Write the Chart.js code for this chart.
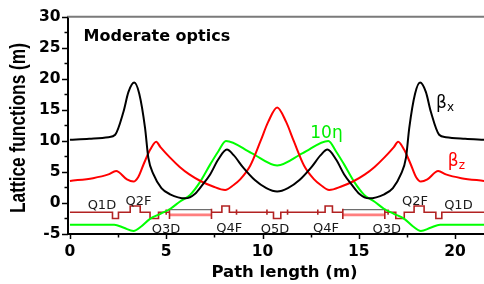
<!DOCTYPE html>
<html><head><meta charset="utf-8">
<script src="https://cdn.jsdelivr.net/npm/chart.js@4.4.1/dist/chart.umd.min.js"></script>
<style>html,body{margin:0;padding:0;background:#fff;overflow:hidden}</style>
</head><body>
<canvas id="c" width="484" height="284"></canvas>
<script>
// ---------------- data ----------------
const betaXPos = [0,1.0,2.0,2.35,2.78,3.04,3.34,3.6,3.9,4.07,4.34,4.75,5.2,6.0,6.5,6.9,7.28,7.7,8.15,8.5,9.0,9.6,10.2,10.76,
                  11.32,11.92,12.52,13.02,13.37,13.82,14.24,14.62,15.02,15.52,16.32,16.77,17.18,17.45,17.62,17.92,18.18,18.48,18.74,19.17,19.52,20.52,21.52];
const betaXVal = [10.2,10.35,10.6,11.0,14.7,17.9,19.4,17.6,12.1,7.3,4.6,2.4,1.4,0.75,1.5,3.0,4.6,7.0,8.6,7.7,5.7,3.7,2.4,1.85,
                  2.4,3.7,5.7,7.7,8.6,7.0,4.6,3.0,1.5,0.75,1.4,2.4,4.6,7.3,12.1,17.6,19.4,17.9,14.7,11.0,10.6,10.35,10.2];

const betaZPos = [0,1.2,2.0,2.4,2.96,3.3,3.55,3.82,4.17,4.48,4.7,5.2,5.7,6.2,6.8,7.4,8.06,8.5,8.84,9.36,9.9,10.3,10.76,
                  11.22,11.62,12.16,12.68,13.02,13.46,14.12,14.72,15.32,15.82,16.32,16.82,17.04,17.35,17.7,17.97,18.22,18.56,19.12,19.52,20.32,21.52];
const betaZVal = [3.55,4.0,4.6,5.15,3.8,3.45,4.2,6.2,8.6,9.85,9.0,7.3,5.8,4.6,3.5,2.7,2.1,2.9,3.8,6.0,10.0,13.1,15.4,
                  13.1,10.0,6.0,3.8,2.9,2.1,2.7,3.5,4.6,5.8,7.3,9.0,9.85,8.6,6.2,4.2,3.45,3.8,5.15,4.6,4.0,3.55];

const etaPos   = [0,1.0,2.3,2.8,3.3,3.7,4.16,4.7,5.2,5.7,6.24,6.76,7.3,7.7,8.1,9.43,10.76,
                  12.09,13.42,13.82,14.22,14.76,15.28,15.82,16.32,16.82,17.36,17.82,18.22,18.72,19.22,20.52,21.52];
const eta10Val = [-3.5,-3.5,-3.5,-4.0,-4.5,-3.8,-2.56,-1.75,-0.97,0.2,1.3,3.4,6.3,8.3,10.0,8.03,6.05,
                  8.03,10.0,8.3,6.3,3.4,1.3,0.2,-0.97,-1.75,-2.56,-3.8,-4.5,-4.0,-3.5,-3.5,-3.5];

// lattice layout (schematic)
const quadNames  = ['Q1D','Q2F','Q3D','Q4F','Q5D','Q4F','Q3D','Q2F','Q1D'];
const quadStart  = [2.21,3.13,4.16,7.89,10.57,13.25,16.92,17.87,19.0];
const quadEnd    = [2.52,3.65,4.6,8.28,10.95,13.63,17.36,18.39,19.31];
const quadLevel  = [-2.5,-0.5,-2.5,-0.5,-2.5,-0.5,-2.5,-0.5,-2.5];
const latticeBase = -1.5;
const latticeEnd  = 21.52;
const dipoleStart = [5.17,14.17];
const dipoleEnd   = [7.35,16.35];
const dipoleTop = -1.07, dipoleBottom = -1.92, dipoleEdgeHi = -0.95, dipoleEdgeLo = -2.6;
const sextupolePos = [5.0,8.65,10.23,11.3,12.87,16.52];
const sextHi = -1.05, sextLo = -1.9;

const xTicks = [0,5,10,15,20];
const xTickLabels = ['0','5','10','15','20'];
const xMinor = [2.5,7.5,12.5,17.5];
const yTicks = [-5,0,5,10,15,20,25,30];
const yTickLabels = ['-5','0','5','10','15','20','25','30'];
const yMinor = [-2.5,2.5,7.5,12.5,17.5,22.5,27.5];

// ---------------- build ----------------
const toXY = (xs, ys) => xs.map((x,i)=>({x:x, y:ys[i]}));

const elements = [];
quadStart.forEach((s,i)=>elements.push({k:'q', s:s, e:quadEnd[i], lv:quadLevel[i]}));
dipoleStart.forEach((s,i)=>elements.push({k:'d', s:s, e:dipoleEnd[i]}));
sextupolePos.forEach(p=>elements.push({k:'s', s:p, e:p}));
elements.sort((a,b)=>a.s-b.s);
const latticePts = [{x:0, y:latticeBase}];
elements.forEach(el=>{
  if (el.k==='q') {
    latticePts.push({x:el.s,y:latticeBase},{x:el.s,y:el.lv},{x:el.e,y:el.lv},{x:el.e,y:latticeBase});
  } else if (el.k==='d') {
    latticePts.push({x:el.s,y:latticeBase},{x:el.s,y:dipoleEdgeHi},{x:el.s,y:dipoleEdgeLo},
                    {x:(el.s+el.e)/2,y:null},
                    {x:el.e,y:dipoleEdgeLo},{x:el.e,y:dipoleEdgeHi},{x:el.e,y:latticeBase});
  } else {
    latticePts.push({x:el.s,y:latticeBase},{x:el.s,y:sextHi},{x:el.s,y:sextLo},{x:el.s,y:latticeBase});
  }
});
latticePts.push({x:latticeEnd, y:latticeBase});

const dipTop = [], dipBot = [];
dipoleStart.forEach((s,i)=>{
  if (i>0) { dipTop.push({x:(dipoleEnd[i-1]+s)/2, y:null}); dipBot.push({x:(dipoleEnd[i-1]+s)/2, y:null}); }
  dipTop.push({x:s,y:dipoleTop},{x:dipoleEnd[i],y:dipoleTop});
  dipBot.push({x:s,y:dipoleBottom},{x:dipoleEnd[i],y:dipoleBottom});
});

const curve = (data,color,w)=>({data:data, borderColor:color, borderWidth:w, pointRadius:0, fill:false,
  cubicInterpolationMode:'monotone', spanGaps:false});
const poly = (data,color,w)=>({data:data, borderColor:color, borderWidth:w, pointRadius:0, fill:false, tension:0, spanGaps:false});

// text annotations (label, anchor in data units)
const qLabelAt = [[1.66,-0.96],[3.56,-0.3],[4.99,-4.83],[8.27,-4.6],[10.65,-4.83],[13.3,-4.6],[16.45,-4.83],[17.92,-0.3],[20.17,-0.96]];

const overlay = {
  id:'overlay',
  afterDraw(chart){
    const ctx = chart.ctx, xs = chart.scales.x, ys = chart.scales.y, a = chart.chartArea;
    const X = v=>xs.getPixelForValue(v), Y = v=>ys.getPixelForValue(v);
    ctx.save();
    // top frame
    ctx.strokeStyle='#7a7a7a'; ctx.lineWidth=2;
    ctx.beginPath(); ctx.moveTo(a.left-1,a.top); ctx.lineTo(a.right,a.top); ctx.stroke();
    // ticks
    ctx.strokeStyle='#000'; ctx.lineWidth=1.5;
    ctx.beginPath();
    yTicks.forEach(v=>{const p=Math.round(Y(v))+0.5; ctx.moveTo(a.left-6,p); ctx.lineTo(a.left,p);});
    yMinor.forEach(v=>{const p=Math.round(Y(v))+0.5; ctx.moveTo(a.left-3.5,p); ctx.lineTo(a.left,p);});
    xTicks.forEach(v=>{const p=Math.round(X(v))+0.5; ctx.moveTo(p,a.bottom); ctx.lineTo(p,a.bottom+5);});
    xMinor.forEach(v=>{const p=Math.round(X(v))+0.5; ctx.moveTo(p,a.bottom); ctx.lineTo(p,a.bottom+3.5);});
    ctx.stroke();

    ctx.textBaseline='alphabetic';
    // panel label
    ctx.fillStyle='#000'; ctx.font='bold 16px "DejaVu Sans"'; ctx.textAlign='left';
    ctx.fillText('Moderate optics', X(0.71), Y(26.05));
    // quad labels
    ctx.font='13px "DejaVu Sans"'; ctx.fillStyle='#1a1a1a'; ctx.textAlign='center';
    quadNames.forEach((n,i)=>ctx.fillText(n, X(qLabelAt[i][0]), Y(qLabelAt[i][1])));
    // 10 eta
    ctx.font='17px "DejaVu Sans"'; ctx.fillStyle='#00ee00'; ctx.textAlign='left';
    ctx.fillText('10\u03b7', X(12.48), Y(10.48));
    // beta labels
    const beta = (sub, xv, yv, color)=>{
      ctx.fillStyle=color; ctx.font='17px "DejaVu Sans"'; ctx.textAlign='left';
      const px=X(xv), py=Y(yv);
      ctx.fillText('\u03b2', px, py);
      const w = ctx.measureText('\u03b2').width;
      ctx.font='12px "DejaVu Sans"';
      ctx.fillText(sub, px+w, py+3.5);
    };
    beta('x', 19.01, 15.31, '#000');
    beta('z', 19.62, 5.99, '#ff0000');
    // axis titles
    ctx.fillStyle='#000'; ctx.font='bold 16.5px "DejaVu Sans"'; ctx.textAlign='center';
    ctx.fillText('Path length (m)', 284.5, 276.5);
    ctx.save();
    ctx.translate(25,128); ctx.rotate(-Math.PI/2); ctx.scale(1,1.3);
    ctx.font='bold 17.3px "Liberation Sans"'; ctx.textAlign='center';
    ctx.fillText('Lattice functions (m)', 0, 0);
    ctx.restore();
    ctx.restore();
  }
};

new Chart(document.getElementById('c'), {
  type:'line',
  data:{ datasets:[
    curve(toXY(betaXPos,betaXVal),'#000000',2),
    curve(toXY(betaZPos,betaZVal),'#ff0000',2),
    curve(toXY(etaPos,eta10Val),'#00ff00',2),
    poly(latticePts,'#b22222',1.6),
    poly(dipTop,'#6e6e6e',1.3),
    poly(dipBot,'#ff7f7f',2.6)
  ]},
  options:{
    responsive:false, animation:false, devicePixelRatio:1,
    layout:{padding:{top:15,left:0,right:0,bottom:0}},
    plugins:{legend:{display:false}, tooltip:{enabled:false}, title:{display:false}},
    scales:{
      x:{type:'linear', min:-0.1, max:21.5,
        afterFit(s){s.height=50;},
        afterBuildTicks(s){s.ticks = xTicks.map(v=>({value:v}));},
        ticks:{autoSkip:false, maxRotation:0, minRotation:0, padding:9, color:'#000',
          font:{family:'DejaVu Sans', weight:'bold', size:15.5},
          callback:(v,i)=>xTickLabels[i]},
        grid:{display:true, drawOnChartArea:false, drawTicks:false},
        border:{display:true, color:'#000', width:2}},
      y:{type:'linear', min:-5, max:30,
        afterFit(s){s.width=68;},
        afterBuildTicks(s){s.ticks = yTicks.map(v=>({value:v}));},
        ticks:{autoSkip:false, padding:7.5, color:'#000',
          font:{family:'DejaVu Sans', weight:'bold', size:15.5},
          callback:(v,i)=>yTickLabels[i]},
        grid:{display:true, drawOnChartArea:false, drawTicks:false},
        border:{display:true, color:'#000', width:2}}
    }
  },
  plugins:[overlay]
});
</script>
</body></html>
